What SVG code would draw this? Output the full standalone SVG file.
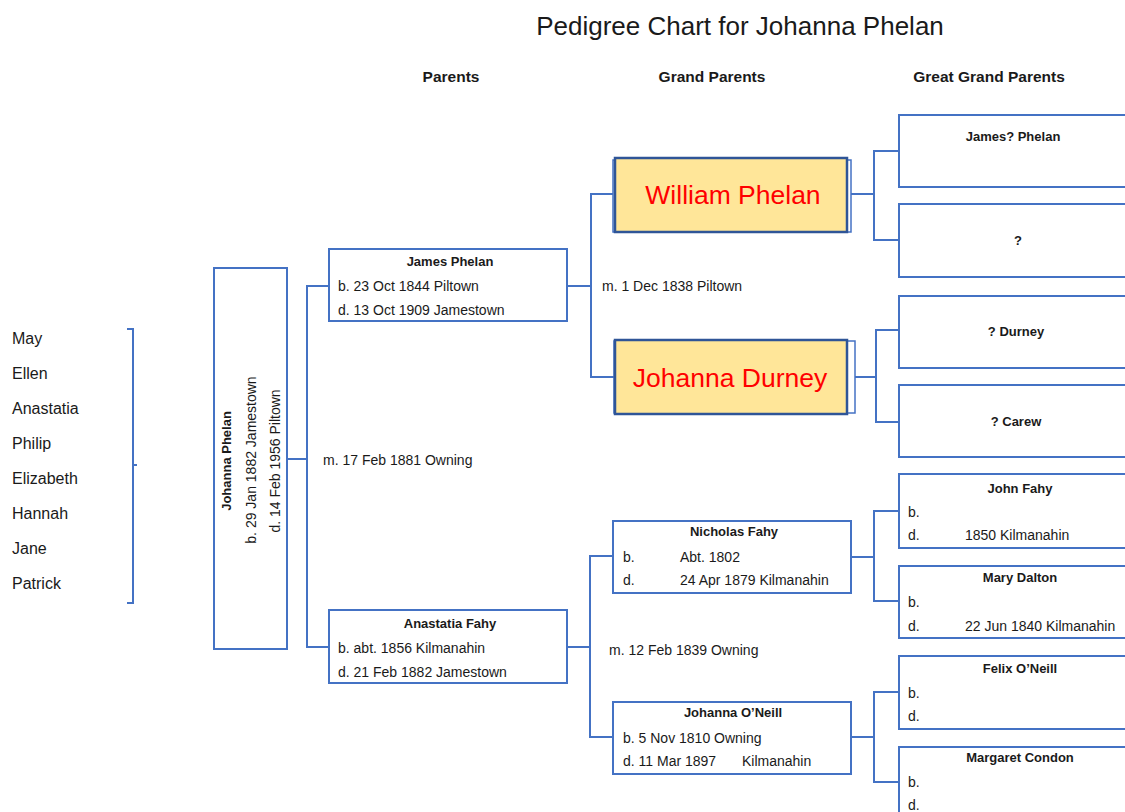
<svg xmlns="http://www.w3.org/2000/svg" width="1125" height="812" viewBox="0 0 1125 812">
  <style>
    text { font-family: "Liberation Sans", Arial, sans-serif; fill: #1a1a1a; }
    .title { font-size: 26px; text-anchor: middle; }
    .hdr { font-size: 15.5px; font-weight: bold; text-anchor: middle; }
    .name { font-size: 13px; font-weight: bold; text-anchor: middle; }
    .info { font-size: 14px; }
    .kid { font-size: 16px; }
    .box { fill: #ffffff; stroke: #4472c4; stroke-width: 2; }
    .hl { fill: #ffe699; stroke: #2f5597; stroke-width: 2.5; }
    .hl2 { fill: none; stroke: #4472c4; stroke-width: 1.5; }
    .big { font-size: 26.5px; fill: #ff0000; text-anchor: middle; }
    .conn path { fill: none; stroke: #4472c4; stroke-width: 2; }
  </style>

  <!-- heading -->
  <text class="title" x="740" y="35">Pedigree Chart for Johanna Phelan</text>
  <text class="hdr" x="451" y="82">Parents</text>
  <text class="hdr" x="712" y="82">Grand Parents</text>
  <text class="hdr" x="989" y="82">Great Grand Parents</text>

  <!-- children -->
  <g id="children">
    <text class="kid" x="12" y="344">May</text>
    <text class="kid" x="12" y="379">Ellen</text>
    <text class="kid" x="12" y="414">Anastatia</text>
    <text class="kid" x="12" y="449">Philip</text>
    <text class="kid" x="12" y="484">Elizabeth</text>
    <text class="kid" x="12" y="519">Hannah</text>
    <text class="kid" x="12" y="554">Jane</text>
    <text class="kid" x="12" y="589">Patrick</text>
  </g>

  <!-- connectors -->
  <g class="conn" id="connectors">
    <path d="M127,329 H133 V603 H127 M133,465 H137"/>
    <path d="M287,459 H307 M329,286 H307 V647 H329"/>
    <path d="M567,286 H591 M613,194 H591 V377 H614"/>
    <path d="M567,647 H590 M613,556 H590 V737 H613"/>
    <path d="M851,194 H874 M899,151 H874 V240 H899"/>
    <path d="M855,377 H876 M899,330 H876 V422 H899"/>
    <path d="M851,557 H874 M899,511 H874 V601 H899"/>
    <path d="M851,737 H874 M899,692 H874 V782 H899"/>
  </g>

  <!-- subject -->
  <g id="johanna-phelan">
    <rect class="box" x="214" y="268" width="73" height="381"/>
    <text class="name" transform="translate(231,461) rotate(-90)">Johanna Phelan</text>
    <text class="info" text-anchor="middle" transform="translate(256,460) rotate(-90)">b. 29 Jan 1882 Jamestown</text>
    <text class="info" text-anchor="middle" transform="translate(280,461) rotate(-90)">d. 14 Feb 1956 Piltown</text>
  </g>
  <text class="info" x="323" y="465">m. 17 Feb 1881 Owning</text>

  <!-- parents -->
  <g id="james-phelan">
    <rect class="box" x="329" y="249" width="238" height="72"/>
    <text class="name" x="450" y="266">James Phelan</text>
    <text class="info" x="338" y="291">b. 23 Oct 1844 Piltown</text>
    <text class="info" x="338" y="315">d. 13 Oct 1909 Jamestown</text>
  </g>
  <g id="anastatia-fahy">
    <rect class="box" x="329" y="610" width="238" height="73"/>
    <text class="name" x="450" y="628">Anastatia Fahy</text>
    <text class="info" x="338" y="653">b. abt. 1856 Kilmanahin</text>
    <text class="info" x="338" y="677">d. 21 Feb 1882 Jamestown</text>
  </g>

  <!-- grand parents -->
  <g id="william-phelan">
    <rect class="hl2" x="613" y="160" width="238" height="72"/>
    <rect class="hl" x="615" y="158" width="232" height="74"/>
    <text class="big" x="733" y="204">William Phelan</text>
  </g>
  <text class="info" x="602" y="291" font-size="13.5">m. 1 Dec 1838 Piltown</text>
  <g id="johanna-durney">
    <rect class="hl2" x="614" y="341" width="241" height="72"/>
    <rect class="hl" x="615" y="340" width="232" height="74"/>
    <text class="big" x="730" y="387">Johanna Durney</text>
  </g>
  <g id="nicholas-fahy">
    <rect class="box" x="613" y="521" width="238" height="72"/>
    <text class="name" x="734" y="536">Nicholas Fahy</text>
    <text class="info" x="623" y="562">b.</text>
    <text class="info" x="680" y="562">Abt. 1802</text>
    <text class="info" x="623" y="585">d.</text>
    <text class="info" x="680" y="585">24 Apr 1879  Kilmanahin</text>
  </g>
  <text class="info" x="609" y="655" font-size="13.5">m. 12 Feb 1839 Owning</text>
  <g id="johanna-oneill">
    <rect class="box" x="613" y="702" width="238" height="72"/>
    <text class="name" x="733" y="717">Johanna O’Neill</text>
    <text class="info" x="623" y="743">b. 5 Nov 1810 Owning</text>
    <text class="info" x="623" y="766">d. 11 Mar 1897</text>
    <text class="info" x="742" y="766">Kilmanahin</text>
  </g>

  <!-- great grand parents -->
  <g id="james-phelan-gg">
    <rect class="box" x="899" y="115" width="240" height="72"/>
    <text class="name" x="1013" y="141">James? Phelan</text>
  </g>
  <g id="unknown-gg">
    <rect class="box" x="899" y="204" width="240" height="73"/>
    <text class="name" x="1018" y="245">?</text>
  </g>
  <g id="durney-gg">
    <rect class="box" x="899" y="296" width="240" height="72"/>
    <text class="name" x="1016" y="336">? Durney</text>
  </g>
  <g id="carew-gg">
    <rect class="box" x="899" y="385" width="240" height="72"/>
    <text class="name" x="1016" y="426">? Carew</text>
  </g>
  <g id="john-fahy">
    <rect class="box" x="899" y="474" width="240" height="74"/>
    <text class="name" x="1020" y="493">John Fahy</text>
    <text class="info" x="908" y="517">b.</text>
    <text class="info" x="908" y="540">d.</text>
    <text class="info" x="965" y="540">1850 Kilmanahin</text>
  </g>
  <g id="mary-dalton">
    <rect class="box" x="899" y="566" width="240" height="72"/>
    <text class="name" x="1020" y="582">Mary Dalton</text>
    <text class="info" x="908" y="607">b.</text>
    <text class="info" x="908" y="631">d.</text>
    <text class="info" x="965" y="631">22 Jun 1840  Kilmanahin</text>
  </g>
  <g id="felix-oneill">
    <rect class="box" x="899" y="656" width="240" height="73"/>
    <text class="name" x="1020" y="673">Felix O’Neill</text>
    <text class="info" x="908" y="698">b.</text>
    <text class="info" x="908" y="721">d.</text>
  </g>
  <g id="margaret-condon">
    <rect class="box" x="899" y="747" width="240" height="80"/>
    <text class="name" x="1020" y="762">Margaret Condon</text>
    <text class="info" x="908" y="787">b.</text>
    <text class="info" x="908" y="810">d.</text>
  </g>
</svg>
